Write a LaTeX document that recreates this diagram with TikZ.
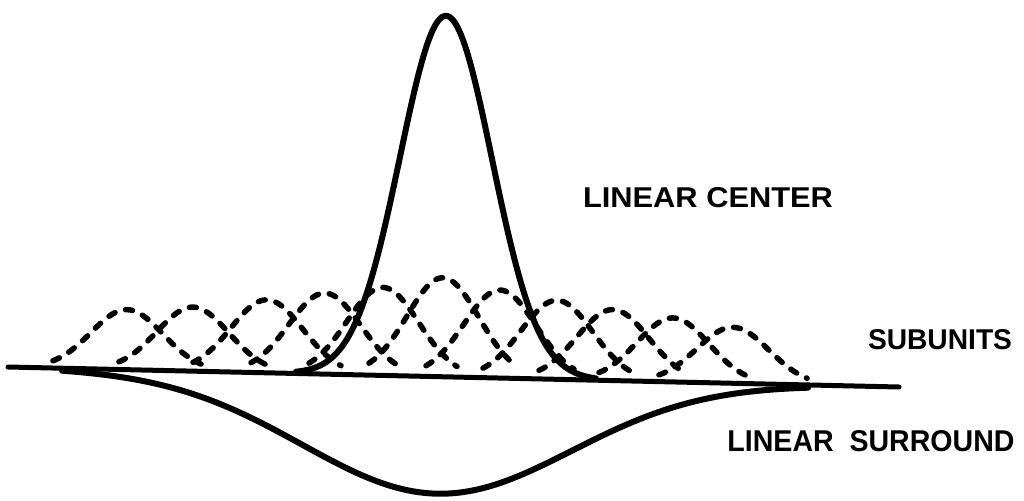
\documentclass[tikz,border=0pt]{standalone}
\usepackage{fontspec}
\setmainfont{Liberation Sans}
\usepackage{graphicx}
\begin{document}
\begin{tikzpicture}[x=1pt,y=-1pt,
  declare function={bl(\x)=367+0.0225*(\x-8); g(\x,\c,\s)=exp(-0.5*((\x-\c)/\s)^2);},
  solidcurve/.style={line width=6pt,line cap=round,line join=round},
  subcurve/.style={line width=5.5pt,line cap=round,dash pattern=on 7pt off 11pt},
  axisline/.style={line width=5pt,line cap=round},
  lbl/.style={inner sep=0pt,font=\bfseries}]
\useasboundingbox (0,0) rectangle (1024,500);
% baseline
\coordinate (bl) at (8,367);
\coordinate (br) at (899,387);
\draw[axisline] (bl) -- (br);
% subunits
\foreach \c/\h in {127/60,193/64,267/73,325/81,383/88,443/99,500/88,557/79,613/71,673/64,733/56}{
  \pgfmathsetmacro\lo{\c-74}
  \pgfmathsetmacro\hi{\c+74}
  \draw[subcurve] plot[domain=\lo:\hi,samples=70,smooth] (\x,{bl(\x)-\h*g(\x,\c,36)});
}
% linear center
\draw[solidcurve] plot[domain=296:596,samples=120,smooth] (\x,{bl(\x)-361*g(\x,446,46)});
% linear surround
\draw[solidcurve] plot[domain=62:808,samples=120,smooth] (\x,{bl(\x)+117*g(\x,437,135)});
% labels
\node[lbl] (lc) at (708,198) {\resizebox{250pt}{20pt}{LINEAR CENTER}};
\node[lbl] (su) at (940,340) {\resizebox{144pt}{20pt}{SUBUNITS}};
\node[lbl] (ls) at (871,441) {\resizebox{287pt}{21pt}{LINEAR\ \ SURROUND}};
\end{tikzpicture}
\end{document}
